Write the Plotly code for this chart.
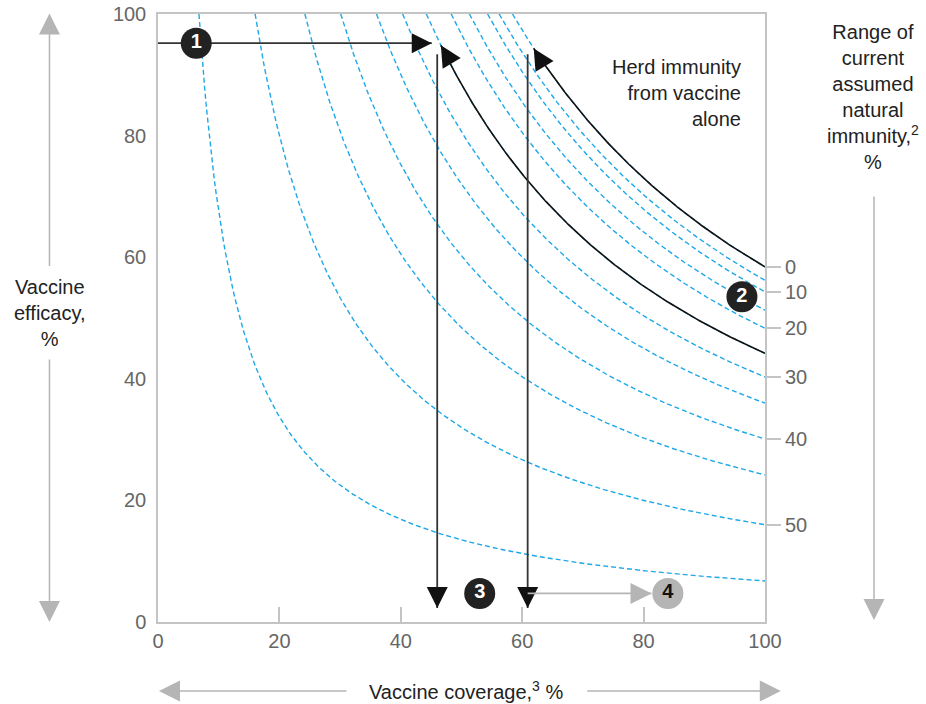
import numpy as np
import plotly.graph_objects as go

# curves: vaccine coverage x efficacy needed for herd immunity (value read where each curve meets 100% coverage)
curve_levels = [6.75, 16.0, 24.2, 30.1, 36.0, 40.3, 44.2, 48.3, 51.3, 54.3, 56.2, 58.4]

# right-hand labels: natural immunity range, placed on the curve they name
natural_labels = ["0", "10", "20", "30", "40", "50"]
natural_levels = [58.4, 54.3, 48.3, 40.3, 30.1, 16.0]

# the two highlighted (solid) curves and the coverage where their arrow tips sit
highlight_levels = [44.2, 58.4]
highlight_tips = [46.6, 61.9]

# step 1: efficacy line
step1_efficacy = 95.2
step1_tip = 45.1
# step 3: coverage drops
step3_coverage = [46.0, 60.9]
step3_top = 93.4
step3_tip = 2.3
# step 4: grey arrow
step4_y = 4.7
step4_tip = 81.3

badge_x = [6.3, 96.2, 53.0, 84.0]
badge_y = [95.2, 53.5, 4.7, 4.7]
badge_text = ["1", "2", "3", "4"]

x_ticks = [0, 20, 40, 60, 80, 100]
y_ticks = [0, 20, 40, 60, 80, 100]

FONT = "Liberation Sans, Arial, sans-serif"
BLUE = "#1ea8e8"
GREY = "#b5b5b5"
AXIS = "#c4c4c4"
DARK = "#222222"

fig = go.Figure()

for k in curve_levels:
    xs = np.linspace(k, 100, 300)
    fig.add_trace(go.Scatter(
        x=xs, y=k * 100 / xs, mode="lines",
        line=dict(color=BLUE, width=1.4, dash="5px,3px"),
        hoverinfo="skip", showlegend=False
    ))

for k, tip in zip(highlight_levels, highlight_tips):
    xs = np.linspace(100, tip, 300)
    fig.add_trace(go.Scatter(
        x=xs, y=k * 100 / xs, mode="lines",
        line=dict(color="#111111", width=1.6),
        hoverinfo="skip", showlegend=False
    ))
    fig.add_trace(go.Scatter(
        x=[tip], y=[k * 100 / tip], mode="markers",
        marker=dict(symbol="arrow-up", size=21, color="#111111", angle=-31),
        hoverinfo="skip", showlegend=False
    ))

# step 1
fig.add_trace(go.Scatter(
    x=[0, step1_tip], y=[step1_efficacy, step1_efficacy], mode="lines",
    line=dict(color="#333333", width=1.8), hoverinfo="skip", showlegend=False
))
fig.add_trace(go.Scatter(
    x=[step1_tip], y=[step1_efficacy], mode="markers",
    marker=dict(symbol="arrow-right", size=20, color="#111111"),
    hoverinfo="skip", showlegend=False
))

# step 3
for cx in step3_coverage:
    fig.add_trace(go.Scatter(
        x=[cx, cx], y=[step3_top, step3_tip], mode="lines",
        line=dict(color="#333333", width=1.8), hoverinfo="skip", showlegend=False
    ))
fig.add_trace(go.Scatter(
    x=step3_coverage, y=[step3_tip] * len(step3_coverage), mode="markers",
    marker=dict(symbol="arrow-down", size=21, color="#111111"),
    hoverinfo="skip", showlegend=False
))

# step 4
fig.add_trace(go.Scatter(
    x=[step3_coverage[1], step4_tip], y=[step4_y, step4_y], mode="lines",
    line=dict(color=GREY, width=1.8), hoverinfo="skip", showlegend=False
))
fig.add_trace(go.Scatter(
    x=[step4_tip], y=[step4_y], mode="markers",
    marker=dict(symbol="arrow-right", size=21, color=GREY),
    hoverinfo="skip", showlegend=False
))

# numbered badges
fig.add_trace(go.Scatter(
    x=badge_x, y=badge_y, mode="markers+text", text=badge_text,
    textposition="middle center",
    textfont=dict(family=FONT, size=20, weight="bold",
                  color=["#ffffff", "#ffffff", "#ffffff", "#111111"]),
    marker=dict(size=31, color=[DARK, DARK, DARK, GREY]),
    hoverinfo="skip", showlegend=False
))

# carrier for the right-hand axis
fig.add_trace(go.Scatter(x=[None], y=[None], yaxis="y2", showlegend=False, hoverinfo="skip"))

fig.update_layout(
    width=926, height=704,
    margin=dict(l=158, r=161, t=14, b=82, autoexpand=False),
    paper_bgcolor="white", plot_bgcolor="white",
    font=dict(family=FONT, size=20, color=DARK),
    xaxis=dict(
        range=[0, 100], tickvals=x_ticks, showgrid=False, zeroline=False, automargin=False,
        showline=True, mirror=True, linecolor=AXIS, linewidth=1.5,
        ticks="inside", ticklen=15, tickwidth=1.5, tickcolor=AXIS,
        ticklabeloverflow="allow", tickfont=dict(size=20, color="#666666")
    ),
    yaxis=dict(
        range=[0, 100], tickvals=y_ticks, showgrid=False, zeroline=False, automargin=False,
        showline=True, mirror=True, linecolor=AXIS, linewidth=1.5,
        ticks="", ticklabelstandoff=6, ticklabeloverflow="allow",
        tickfont=dict(size=20, color="#666666")
    ),
    yaxis2=dict(
        range=[0, 100], overlaying="y", side="right", showgrid=False, zeroline=False,
        automargin=False, showline=False, tickvals=natural_levels, ticktext=natural_labels,
        ticks="outside", ticklen=15, tickwidth=1.5, tickcolor=AXIS,
        ticklabeloverflow="allow", tickfont=dict(size=20, color="#666666")
    ),
)

annotations = [
    dict(x=96.3, y=93.5, xref="x", yref="y", xanchor="right", yanchor="top", align="right",
         text="Herd immunity<br>from vaccine<br>alone", showarrow=False),
    dict(x=-0.178, y=0.508, xref="paper", yref="paper", xanchor="center", yanchor="middle",
         text="Vaccine<br>efficacy,<br>%", showarrow=False),
    dict(x=1.178, y=0.864, xref="paper", yref="paper", xanchor="center", yanchor="middle",
         text="Range of<br>current<br>assumed<br>natural<br>immunity,<sup>2</sup><br>%", showarrow=False),
    dict(x=0.507, y=-0.112, xref="paper", yref="paper", xanchor="center", yanchor="middle",
         text="Vaccine coverage,<sup>3</sup> %", showarrow=False),
]

# grey guide arrows around the frame
guides = [
    (-0.1788, 1.0008, 0, 254),
    (-0.1788, 0.0, 0, -264),
    (1.1796, 0.0033, 0, -425),
    (0.0016, -0.1135, 189, 0),
    (1.026, -0.1135, -195, 0),
]
for gx, gy, ax, ay in guides:
    annotations.append(dict(
        x=gx, y=gy, xref="paper", yref="paper", ax=ax, ay=ay, text="",
        showarrow=True, arrowhead=2, arrowsize=2.8, arrowwidth=1.5, arrowcolor=GREY
    ))

fig.update_layout(annotations=annotations)

# drop the browser's default 8px body margin so the figure fills the window exactly
fig.write_html("out.html", config={"displayModeBar": False},
               post_script="document.body.style.margin='0';")
